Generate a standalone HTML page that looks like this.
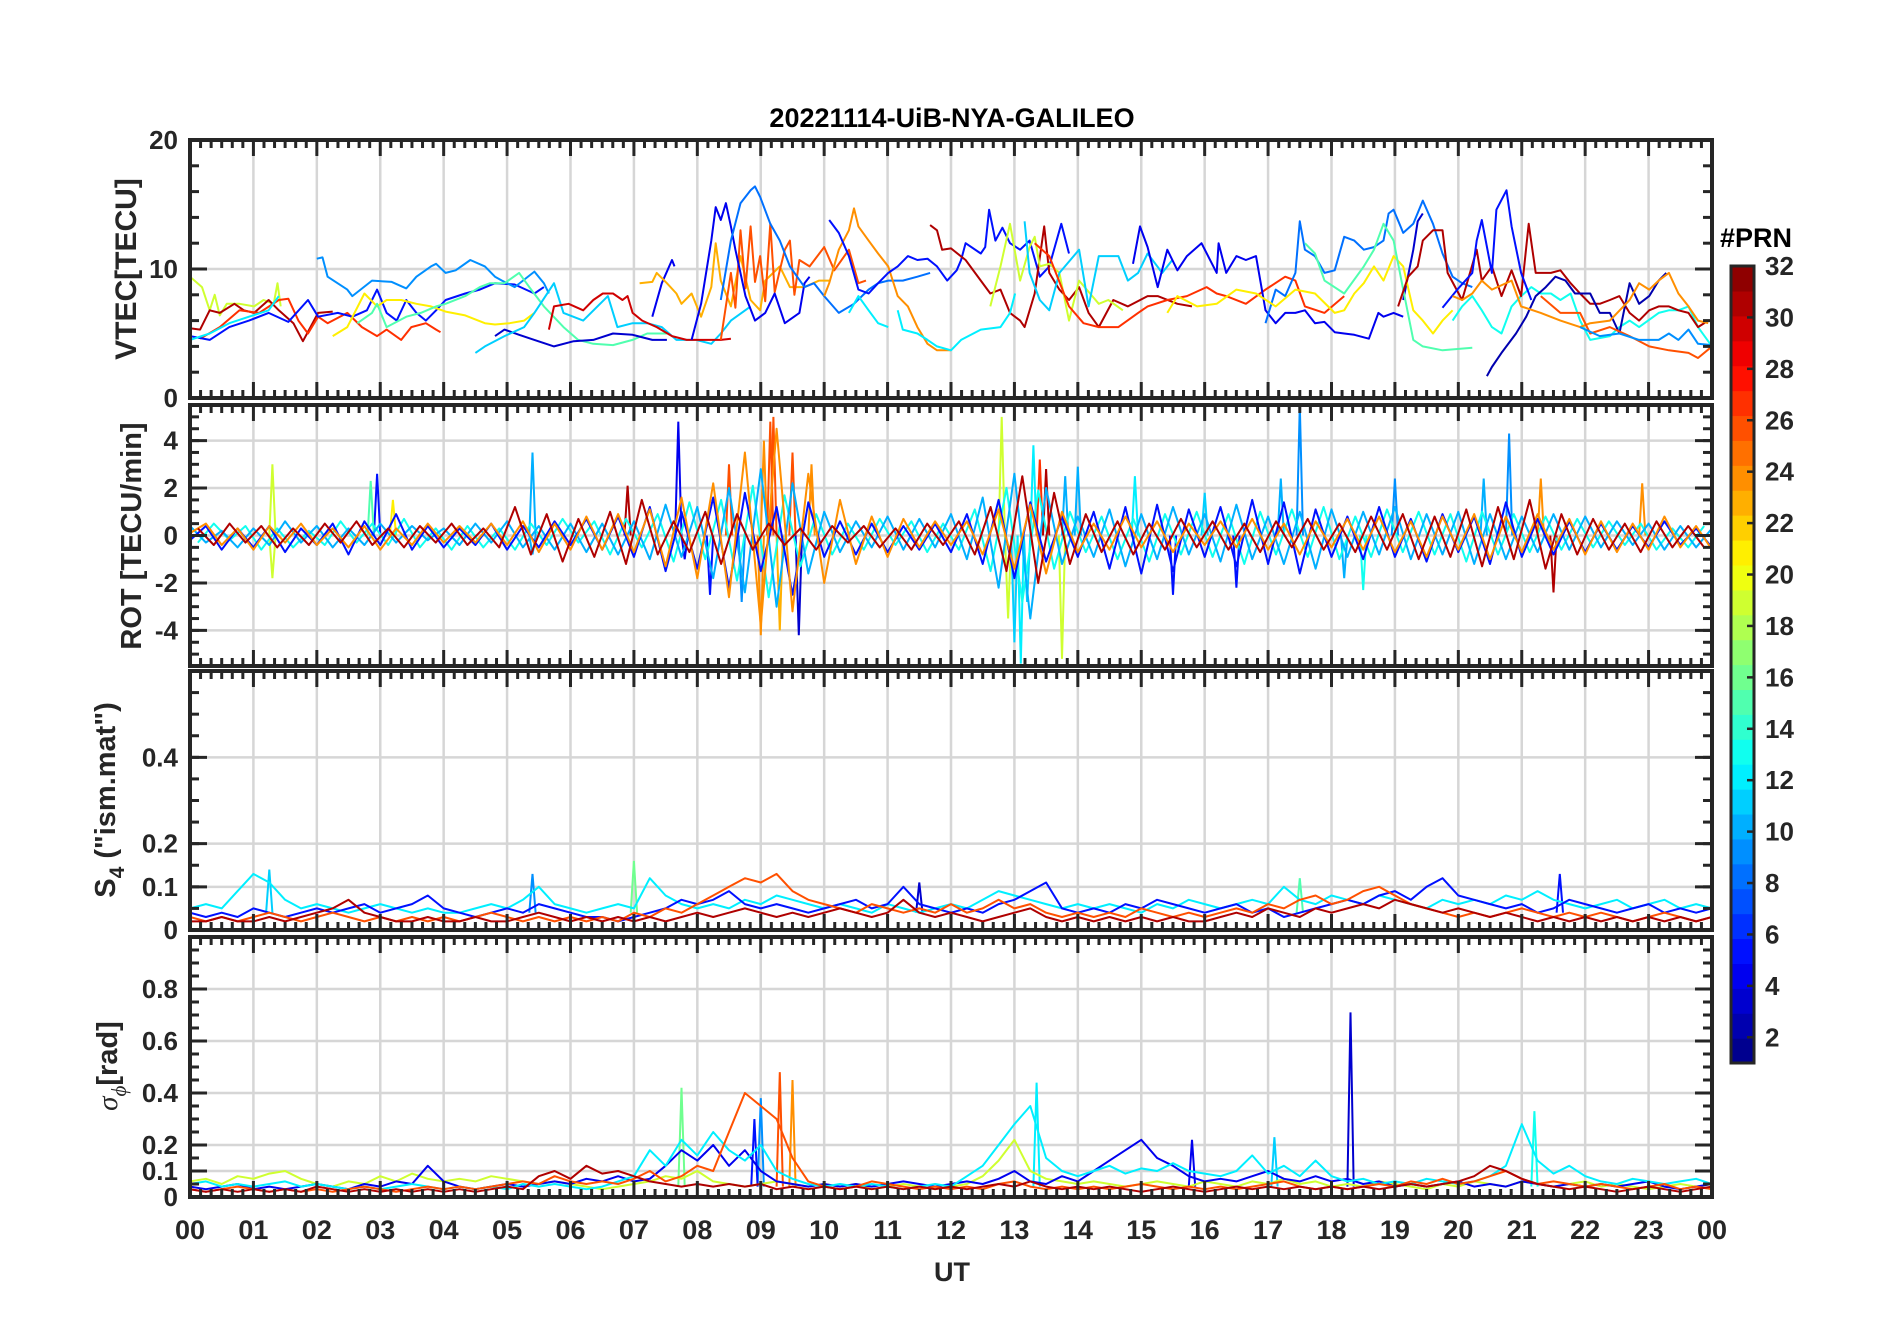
<!DOCTYPE html>
<html><head><meta charset="utf-8"><title>20221114-UiB-NYA-GALILEO</title>
<style>
html,body{margin:0;padding:0;background:#fff;}
svg{display:block;font-family:"Liberation Sans",Arial,sans-serif;}
</style></head>
<body>
<svg id="chart" width="1902" height="1330" viewBox="0 0 1902 1330" xmlns="http://www.w3.org/2000/svg">
<rect x="0" y="0" width="1902" height="1330" fill="#fff"/>
<text x="952" y="127" text-anchor="middle" font-size="27" font-weight="bold" fill="#000">20221114-UiB-NYA-GALILEO</text>
<text x="952" y="1281" text-anchor="middle" font-size="27" font-weight="bold" fill="#262626">UT</text>
<text transform="translate(136,269) rotate(-90)" text-anchor="middle" font-size="30" font-weight="bold" fill="#262626">VTEC[TECU]</text>
<text transform="translate(141,536) rotate(-90)" text-anchor="middle" font-size="29" font-weight="bold" fill="#262626">ROT [TECU/min]</text>
<text transform="translate(115,800) rotate(-90)" text-anchor="middle" font-size="29" font-weight="bold" fill="#262626">S<tspan font-size="21" dy="9">4</tspan><tspan dy="-9"> ("ism.mat")</tspan></text>
<text transform="translate(117,1066) rotate(-90)" text-anchor="middle" font-size="29" font-weight="bold" fill="#262626"><tspan font-style="italic" font-weight="normal" font-family="Liberation Serif, serif">σ</tspan><tspan font-size="21" dy="9" font-style="italic" font-weight="normal" font-family="Liberation Serif, serif">ϕ</tspan><tspan dy="-9">[rad]</tspan></text>
<text x="1720" y="247" font-size="27" font-weight="bold" fill="#000">#PRN</text>
<g id="layers"></g>
</svg>
<script>
// ===== VTEC data (hours / TECU) =====
const vtecT_A=[0,0.19,0.31,0.39,0.47,0.58,0.78,1.01,1.16,1.32,1.38,1.43];
const vtecV_A=[9.4,8.6,6.8,8.0,6.4,7.3,7.3,7.1,7.6,7.3,8.9,7.1];
const vtecT_B=[0,0.16,0.31,0.47,0.70,0.85,1.01,1.24,1.40,1.63,1.78,1.90,2.02,2.25];
const vtecV_B=[5.4,5.3,6.8,6.6,7.3,6.8,6.6,7.6,6.8,5.8,4.4,5.5,6.6,6.7];
const vtecT_C=[0.16,0.47,0.78,1.09,1.40,1.55,1.71,1.86,2.02,2.17,2.48,2.71,2.95,3.10,3.33,3.49,3.72,3.88,3.95];
const vtecV_C=[4.6,5.5,6.8,6.6,7.6,7.7,6.0,5.0,6.3,5.8,6.6,5.5,4.8,5.3,4.5,5.5,5.8,5.3,5.1];
const vtecT_D=[0,0.31,0.62,0.93,1.24,1.55,1.86,2.02,2.33,2.56,2.79,2.95,3.10,3.26,3.41,3.57,3.72,3.88,4.03,4.34,4.57,4.81,5.12,5.43,5.58];
const vtecV_D=[4.8,4.5,5.5,6.0,6.6,5.9,7.6,6.3,6.6,6.3,6.8,8.4,6.6,6.0,7.6,6.6,6.0,6.8,7.6,8.1,8.4,8.9,8.8,8.1,8.6];
const vtecT_E=[0,0.31,0.62,0.93,1.24,1.40];
const vtecV_E=[4.5,5.0,5.8,6.3,6.8,7.9];
const vtecT_F=[2.0,2.09,2.17,2.48,2.56,2.87,3.18,3.41,3.57,3.80,3.88,4.03,4.19,4.42,4.65,4.81,4.92,5.12,5.43,5.58,5.66];
const vtecV_F=[10.8,10.9,9.4,8.4,7.9,9.1,9.0,8.5,9.4,10.2,10.4,9.7,9.9,10.7,10.2,9.4,9.1,8.6,9.8,8.9,8.1];
const vtecT_G=[2.25,2.48,2.75,2.95,3.10,3.33,3.57,3.80,4.03,4.34,4.65,4.81,5.04,5.27,5.43];
const vtecV_G=[4.8,5.5,8.1,7.1,7.6,7.6,7.3,7.1,6.7,6.4,5.8,5.7,5.8,6.0,6.6];
const vtecT_H=[2.64,2.87,2.95,3.10,3.41,3.64,3.88,4.03,4.34,4.57,4.73,4.96,5.19,5.35,5.58,5.89,6.12,6.36,6.67,6.98,7.21,7.52];
const vtecV_H=[5.8,6.6,7.3,5.5,6.3,6.6,7.1,7.3,7.9,8.6,8.9,8.9,9.7,8.6,7.1,5.5,4.5,4.2,4.1,4.5,5.0,5.0];
const vtecT_I=[4.81,4.96,5.19,5.43,5.74,6.05,6.36,6.67,6.98,7.29,7.52];
const vtecV_I=[4.8,5.3,4.9,4.5,4.0,4.4,4.5,5.0,4.9,4.5,4.5];
const vtecT_I2=[7.29,7.44,7.60,7.64];
const vtecV_I2=[6.3,8.9,10.7,10.2];
const vtecT_J=[4.50,4.65,4.96,5.27,5.43,5.74,5.89,6.20,6.59,6.74,6.98,7.21,7.44,7.67,7.98,8.22,8.37,8.53,8.84];
const vtecV_J=[3.5,4.0,4.8,5.5,6.6,8.9,6.6,6.0,7.9,5.5,5.8,5.8,5.5,4.5,4.5,4.2,5.0,6.0,7.1];
const vtecT_K=[5.66,5.74,5.97,6.20,6.36,6.51,6.67,6.82,6.90,6.98,7.13,7.36,7.60,7.83,8.06,8.37,8.53];
const vtecV_K=[5.3,7.1,7.3,6.8,7.6,8.1,8.1,7.6,7.9,6.6,6.0,5.5,4.8,4.5,4.5,4.5,4.6];
const vtecT_L=[7.09,7.29,7.36,7.52,7.67,7.75,7.91,8.06,8.22,8.29,8.37,8.53,8.68,8.84,8.99,9.07,9.30,9.46,9.69,9.92,10.08];
const vtecV_L=[8.9,9.0,9.7,8.9,8.1,7.3,8.1,6.3,8.6,12.0,9.1,7.1,11.0,7.6,6.8,9.1,10.2,8.6,8.6,9.1,9.1];
const vtecT_M=[8.37,8.53,8.60,8.68,8.76,8.84,8.91,8.99,9.07,9.15,9.22,9.30,9.38,9.46,9.53,9.61,9.77,10.0,10.16,10.39,10.54,10.66];
const vtecV_M=[4.5,9.7,7.0,13.0,8.5,13.3,9.0,11.0,7.5,13.5,8.2,9.9,11.5,12.2,8.0,10.7,10.2,11.7,9.9,11.5,8.9,9.1];
const vtecT_N=[7.91,8.06,8.22,8.29,8.37,8.45,8.53,8.60,8.76,8.91,9.07,9.22,9.38,9.61,9.69,9.77];
const vtecV_N=[4.5,7.3,12.2,14.8,13.8,15.1,13.3,11.5,7.9,6.0,6.6,8.1,5.8,6.6,8.9,9.4];
const vtecT_O=[8.37,8.53,8.68,8.84,8.91,8.99,9.15,9.30,9.46,9.69,9.84,10.0,10.23,10.47,10.70,10.85,11.01,11.24,11.47,11.67];
const vtecV_O=[7.6,12.2,15.1,16.1,16.4,15.6,13.5,12.2,10.2,8.6,8.9,7.9,6.6,7.3,8.4,8.9,9.1,9.1,9.4,9.7];
const vtecT_P=[10.0,10.08,10.23,10.39,10.47,10.54,10.70,10.85,11.01,11.16,11.32,11.47,11.63,11.78,12.0];
const vtecV_P=[7.9,8.9,11.5,13.0,14.7,13.3,12.2,11.2,10.2,7.9,7.1,5.5,4.2,3.7,3.7];
const vtecT_Q=[10.08,10.23,10.39,10.54,10.70,10.85,11.01,11.16,11.32,11.47,11.63,11.78,11.94,12.09,12.16,12.23,12.47,12.54,12.60,12.70,12.81,12.93,13.09,13.24,13.40,13.55,13.74,13.86];
const vtecV_Q=[13.8,12.8,11.0,8.4,8.1,8.9,9.7,10.2,11.0,10.7,10.8,10.2,9.1,9.9,10.7,12.0,11.2,11.7,14.6,12.2,13.2,12.0,11.5,12.2,9.4,10.2,13.5,11.2];
const vtecT_R=[11.67,11.78,11.86,12.0,12.23,12.47,12.62,12.78,12.93,13.09,13.16,13.32,13.47,13.55,13.71,13.86,14.02,14.17,14.33,14.56,14.79,15.10,15.26,15.57,15.80];
const vtecV_R=[13.4,13.0,11.5,11.6,10.7,9.1,8.1,8.4,6.6,6.0,5.5,8.1,13.3,9.7,8.4,7.6,8.6,6.6,5.5,7.6,7.1,7.9,7.9,7.3,7.1];
const vtecT_S1=[10.39,10.54,10.70,10.85,11.01];
const vtecV_S1=[6.6,7.9,6.8,5.8,5.5];
const vtecT_S2=[11.16,11.24,11.47,11.63,11.78,12.0,12.16,12.47,12.78,12.93,13.01];
const vtecV_S2=[6.8,5.3,5.0,4.5,4.0,3.7,4.5,5.3,5.5,6.6,8.1];
const vtecT_T=[12.62,12.78,12.93,13.09,13.24,13.32,13.40,13.55,13.71,13.86,14.02,14.33,14.48,14.71];
const vtecV_T=[7.1,10.2,13.5,9.1,11.7,12.5,10.2,10.4,9.7,6.0,9.1,7.3,7.6,6.8];
const vtecT_U=[13.16,13.24,13.40,13.55,13.71,14.02,14.17,14.33,14.64,14.79,14.95,15.10,15.33,15.49];
const vtecV_U=[13.7,9.7,7.6,6.8,9.7,11.5,7.1,11.0,11.0,9.1,9.7,11.2,9.7,10.7];
const vtecT_V=[13.32,13.55,13.86,14.09,14.33,14.64,14.95,15.10,15.41,15.72,16.03,16.19,16.34,16.65,16.96,17.27,17.43,17.58,17.89,18.20];
const vtecV_V=[12.0,11.0,7.1,5.8,5.5,5.5,6.6,7.1,7.6,7.9,8.6,8.1,7.9,7.3,8.4,9.4,9.1,7.1,6.6,7.9];
const vtecT_W=[14.87,14.98,15.10,15.26,15.41,15.57,15.72,15.88,15.95,16.19,16.22,16.34,16.50,16.65,16.81,16.96,17.12,17.27,17.43,17.58,17.74,17.89,18.05,18.20,18.36,18.59,18.74,18.82,18.98,19.13];
const vtecV_W=[10.4,13.3,11.7,8.6,11.5,9.9,11.0,11.7,12.0,9.7,12.0,9.7,11.0,10.7,11.0,6.8,5.8,6.6,6.6,6.8,5.8,5.9,5.1,5.0,4.9,4.6,6.6,6.3,6.6,6.3];
const vtecT_X=[19.13,19.29,19.36,19.44];
const vtecV_X=[7.6,11.5,13.7,14.3];
const vtecT_Y=[16.96,17.12,17.27,17.43,17.50,17.58,17.74,17.89,18.05,18.20,18.36,18.51,18.67,18.82,18.90,18.98,19.13,19.29,19.44,19.60,19.75,19.91,20.06,20.22];
const vtecV_Y=[5.8,8.4,7.9,9.7,13.7,11.5,11.0,9.7,9.9,12.5,12.2,11.5,11.7,12.2,14.3,14.6,12.8,13.5,15.3,13.5,11.2,9.4,8.9,8.6];
const vtecT_Z=[15.41,15.57,15.88,16.19,16.50,16.81,17.12,17.43,17.74,18.05,18.20,18.36,18.51,18.67,18.82,18.98,19.13,19.29,19.44,19.60,19.75,19.91];
const vtecV_Z=[6.6,7.9,7.1,7.3,8.4,8.1,7.1,8.4,8.1,6.6,6.8,8.1,8.9,10.2,9.1,11.0,10.2,6.8,6.0,5.0,6.0,6.8];
const vtecT_AA=[17.58,17.74,17.89,18.20,18.51,18.67,18.82,18.98,19.13,19.29,19.44,19.75,20.22];
const vtecV_AA=[12.0,11.2,9.1,8.1,10.2,11.5,13.5,12.2,8.4,4.5,4.0,3.7,3.9];
const vtecT_AB=[19.91,20.06,20.22,20.37,20.53,20.68,20.84,20.99,21.15,21.30,21.46,21.61,21.77,21.92,22.08,22.39,22.54,22.70,22.85,23.16,23.32,23.47,23.63,23.78,24.0];
const vtecV_AB=[6.0,7.1,7.9,6.8,5.5,5.0,7.1,7.9,8.6,8.1,8.1,7.6,8.1,6.0,4.5,4.8,5.5,6.0,5.5,6.6,6.8,6.8,7.1,5.5,4.0];
const vtecT_AC=[19.05,19.21,19.36,19.44,19.60,19.75,19.83,20.06,20.29,20.37,20.53,20.68,20.84,20.99,21.11,21.22,21.46,21.61,21.77,21.92,22.08,22.23,22.39,22.54,22.70,22.85,23.01,23.16,23.32,23.47,23.63,23.78,23.94];
const vtecV_AC=[7.1,9.4,10.2,12.2,13.0,13.0,9.7,7.6,11.5,9.1,10.2,7.9,9.9,7.9,13.5,9.7,9.7,9.9,8.9,8.1,7.3,7.3,7.6,7.9,6.6,6.0,6.8,7.1,7.1,6.8,6.6,5.5,6.0];
const vtecT_AD=[20.45,20.53,20.68,20.91,21.07,21.22,21.38,21.53,21.69,21.84,22.08,22.23,22.39,22.54,22.70,22.85,23.01,23.16,23.28];
const vtecV_AD=[1.7,2.4,3.5,5.0,6.3,7.9,8.6,9.4,9.1,8.1,8.1,6.6,6.6,5.0,8.9,7.3,7.9,9.1,9.7];
const vtecT_AE=[19.75,20.0,20.22,20.29,20.37,20.53,20.60,20.76,20.84,20.99,21.15];
const vtecV_AE=[7.0,8.5,9.7,12.2,13.8,9.7,14.6,16.1,13.3,9.7,7.6];
const vtecT_AF=[19.91,20.06,20.22,20.37,20.53,20.84,20.99,21.30,21.61,21.92,22.08,22.39,22.70,22.85,23.01,23.16,23.32,23.47,23.63,23.78,23.94];
const vtecV_AF=[7.9,7.6,8.1,9.1,8.4,9.1,7.1,6.6,6.0,5.5,5.8,6.0,7.6,8.9,8.4,9.1,9.7,8.1,7.1,6.0,5.8];
const vtecT_AG=[21.30,21.61,21.92,22.08,22.39,22.70,23.01,23.32,23.63,23.78,24.0];
const vtecV_AG=[7.9,6.6,6.6,5.0,5.5,4.8,4.0,3.7,3.5,3.1,4.0];
const vtecT_AH=[21.92,22.23,22.54,22.85,23.16,23.32,23.47,23.63,23.78,24.0];
const vtecV_AH=[5.5,4.8,5.0,4.5,4.5,5.0,4.5,5.3,4.2,4.1];
const vtecPrn=[19,31,27,5,12,9,21,15,3,4,11,30,23,26,4,8,24,5,31,12,12,19,11,27,4,3,8,21,15,13,31,2,5,24,26,9];
const vtecTimes=[vtecT_A,vtecT_B,vtecT_C,vtecT_D,vtecT_E,vtecT_F,vtecT_G,vtecT_H,vtecT_I,vtecT_I2,vtecT_J,vtecT_K,vtecT_L,vtecT_M,vtecT_N,vtecT_O,vtecT_P,vtecT_Q,vtecT_R,vtecT_S1,vtecT_S2,vtecT_T,vtecT_U,vtecT_V,vtecT_W,vtecT_X,vtecT_Y,vtecT_Z,vtecT_AA,vtecT_AB,vtecT_AC,vtecT_AD,vtecT_AE,vtecT_AF,vtecT_AG,vtecT_AH];
const vtecVals=[vtecV_A,vtecV_B,vtecV_C,vtecV_D,vtecV_E,vtecV_F,vtecV_G,vtecV_H,vtecV_I,vtecV_I2,vtecV_J,vtecV_K,vtecV_L,vtecV_M,vtecV_N,vtecV_O,vtecV_P,vtecV_Q,vtecV_R,vtecV_S1,vtecV_S2,vtecV_T,vtecV_U,vtecV_V,vtecV_W,vtecV_X,vtecV_Y,vtecV_Z,vtecV_AA,vtecV_AB,vtecV_AC,vtecV_AD,vtecV_AE,vtecV_AF,vtecV_AG,vtecV_AH];

// ===== ROT data (TECU/min, every 0.25 h) =====
const rotP31=[0.3,-0.4,0.5,-0.3,0.4,-0.5,0.3,-0.4,0.5,-0.3,0.6,-0.4,0.3,-0.5,0.4,-0.3,0.5,-0.4,0.3,-0.5,1.2,-0.8,0.9,-1.1,0.7,-0.9,1.0,-1.2,1.5,-0.8,0.6,-0.7,1.0,-1.2,0.9,-0.6,0.5,-0.4,0.3,-0.6,0.4,-0.3,0.4,-0.5,0.3,-0.6,0.5,-0.4,0.6,-0.8,1.2,-1.5,2.5,-2.0,1.8,-1.2,0.9,-0.7,0.6,-0.8,0.5,-0.6,0.7,-0.5,0.6,-0.6,0.5,-0.7,0.6,-0.5,0.7,-0.6,0.5,-0.7,0.8,-0.6,0.9,-1.0,0.8,-0.9,1.1,-1.3,1.2,-1.0,1.5,-1.4,0.9,-0.8,0.7,-0.6,0.5,-0.7,0.6,-0.5,0.4,-0.5,0.3];
const rotP24=[0.1,0.5,-0.4,0.3,-0.6,0.4,-0.3,0.5,-0.4,0.3,-0.5,0.4,-0.6,0.3,-0.4,0.5,-0.3,0.4,-0.3,0.5,-0.4,0.6,-0.7,0.5,-0.6,0.8,-0.6,0.9,-0.7,1.1,-1.3,1.6,-1.8,2.2,-2.6,3.5,-3.8,4.5,-3.2,2.6,-2.0,1.5,-1.2,0.8,-0.9,0.7,-0.5,0.6,-0.4,0.6,-0.8,1.1,-1.4,1.3,-1.6,1.0,-0.7,0.5,-0.6,0.8,-0.5,0.6,-0.7,0.5,-0.4,0.6,-0.5,0.7,-0.6,0.5,-0.8,0.6,-0.5,0.7,-0.6,0.8,-0.7,0.6,-0.9,0.8,-0.6,0.9,-1.0,0.8,-0.7,0.9,-0.6,0.7,-0.8,0.6,-0.7,0.5,-0.6,0.8,-0.5,0.4,-0.6];
const rotP5=[-0.2,0.4,-0.6,0.3,-0.5,0.4,-0.7,0.3,-0.4,0.5,-0.8,0.6,-0.4,0.9,-0.6,0.4,-0.5,0.3,-0.4,0.5,-0.6,0.4,-0.5,0.6,-0.4,0.7,-0.6,0.8,-0.9,1.2,-1.5,1.0,-1.4,1.6,-2.2,1.8,-1.5,1.2,-2.5,1.4,-0.9,0.6,-0.8,0.5,-0.7,0.4,-0.6,0.5,-0.7,0.9,-1.2,1.5,-1.8,1.4,-1.1,0.8,-0.9,1.0,-1.4,1.2,-1.6,1.3,-1.5,1.1,-0.9,1.2,-1.3,1.5,-1.2,1.4,-1.6,1.1,-0.9,0.8,-1.0,1.2,-0.9,0.7,-1.1,0.9,-0.7,0.8,-1.2,1.4,-0.9,0.7,-0.8,0.6,-0.7,0.5,-0.6,0.4,-0.5,0.6,-0.4,0.3,-0.5];
const rotP10=[0.4,-0.3,0.2,-0.5,0.3,-0.4,0.6,-0.3,0.4,-0.5,0.3,-0.4,0.5,-0.3,0.4,-0.2,0.3,-0.4,0.5,-0.3,0.6,-0.5,0.4,-0.6,0.5,-0.7,0.5,-0.8,0.6,-1.0,1.3,-0.9,1.2,-1.8,2.0,-2.4,2.8,-3.0,2.2,-1.6,1.0,-0.7,0.6,-0.5,0.8,-0.6,0.7,-0.5,0.9,-1.0,1.6,-2.2,2.6,-3.5,2.0,-1.2,0.8,-0.9,1.1,-1.3,0.9,-1.0,1.2,-0.8,0.9,-1.1,1.3,-1.0,0.8,-1.2,1.0,-1.4,1.1,-0.9,1.0,-0.8,1.2,-1.0,0.9,-0.8,1.0,-1.2,0.9,-1.0,0.8,-0.7,0.9,-0.6,0.8,-0.5,0.6,-0.4,0.5,-0.6,0.4,-0.5,0.3];
const rotP13=[-0.3,0.5,-0.2,0.4,-0.6,0.3,-0.5,0.2,-0.4,0.6,-0.3,0.5,-0.4,0.7,-0.5,0.3,-0.6,0.4,-0.5,0.3,-0.6,0.5,-0.4,0.7,-0.3,0.6,-0.8,0.7,-0.5,0.9,-1.1,1.4,-1.0,1.5,-1.9,2.1,-2.6,1.7,-1.3,0.9,-0.8,0.5,-0.6,0.7,-0.4,0.6,-0.7,0.5,-0.6,1.1,-1.5,2.0,-2.8,1.9,-1.4,1.0,-0.7,0.8,-1.0,0.7,-1.1,0.9,-0.8,1.0,-0.9,0.9,-1.2,1.0,-0.8,1.1,-0.9,1.2,-1.0,0.8,-0.9,1.1,-0.7,1.0,-0.8,0.9,-1.1,1.0,-0.8,0.9,-0.7,0.8,-0.6,0.7,-0.5,0.6,-0.4,0.5,-0.6,0.3,-0.5,0.4,-0.3];
const rotSeriesPrn=[13,10,5,24,31];
const rotSeriesVals=[rotP13,rotP10,rotP5,rotP24,rotP31];
const rotSeriesStart=[0.125,0,0,0,0.125];
const rotSpikeHour=[1.3,1.3,2.95,2.85,3.2,5.4,5.4,6.9,7.7,7.8,8.2,8.5,8.7,9.0,9.05,9.15,9.2,9.3,9.5,9.6,9.8,12.8,12.9,13.0,13.1,13.2,13.3,13.4,13.5,13.75,13.8,14.0,14.9,15.5,16.0,16.5,17.2,17.5,18.2,18.5,19.0,20.4,20.8,21.3,21.5,22.9];
const rotSpikeVal=[3.0,-1.8,2.6,2.3,1.5,3.5,-0.8,2.1,4.8,-1.0,-2.5,3.0,-2.8,-4.2,4.0,4.8,5.0,-4.0,3.5,-4.2,3.0,5.0,-3.5,-4.5,-5.4,-2.8,3.8,3.2,2.8,-5.2,2.5,2.9,2.5,-2.5,1.8,-2.2,2.4,5.5,-1.8,-2.3,2.4,2.4,4.3,2.4,-2.4,2.2];
const rotSpikePrn=[19,19,5,15,21,10,10,31,4,4,5,26,9,24,24,26,26,23,26,3,24,19,19,11,12,11,12,27,31,19,10,10,12,5,11,5,10,9,10,13,9,10,9,24,31,24];

// ===== S4 data (every 0.25 h) =====
const s4P12=[0.05,0.06,0.05,0.09,0.13,0.11,0.07,0.05,0.06,0.05,0.04,0.05,0.06,0.05,0.04,0.05,0.04,0.04,0.05,0.06,0.05,0.07,0.10,0.06,0.05,0.04,0.05,0.06,0.05,0.12,0.08,0.06,0.05,0.06,0.05,0.07,0.06,0.08,0.07,0.06,0.05,0.06,0.05,0.04,0.06,0.05,0.04,0.05,0.06,0.05,0.07,0.09,0.08,0.07,0.06,0.05,0.06,0.05,0.06,0.05,0.04,0.06,0.05,0.07,0.06,0.05,0.06,0.07,0.06,0.10,0.07,0.06,0.08,0.07,0.06,0.08,0.07,0.06,0.05,0.07,0.06,0.07,0.06,0.08,0.07,0.09,0.07,0.06,0.05,0.06,0.07,0.05,0.06,0.07,0.05,0.06,0.05];
const s4P5=[0.04,0.03,0.04,0.03,0.05,0.04,0.03,0.04,0.05,0.04,0.05,0.06,0.04,0.05,0.06,0.08,0.05,0.04,0.03,0.04,0.05,0.04,0.06,0.05,0.04,0.03,0.03,0.02,0.03,0.04,0.05,0.07,0.06,0.07,0.09,0.06,0.05,0.06,0.05,0.04,0.05,0.06,0.07,0.05,0.06,0.10,0.06,0.05,0.04,0.05,0.04,0.06,0.07,0.09,0.11,0.05,0.04,0.05,0.04,0.06,0.05,0.07,0.06,0.05,0.04,0.05,0.06,0.04,0.05,0.03,0.04,0.05,0.06,0.07,0.06,0.08,0.09,0.07,0.10,0.12,0.08,0.07,0.06,0.05,0.06,0.04,0.05,0.07,0.06,0.05,0.04,0.05,0.06,0.04,0.05,0.04,0.05];
const s4P26=[0.03,0.02,0.03,0.02,0.03,0.04,0.03,0.02,0.03,0.04,0.03,0.02,0.03,0.02,0.03,0.02,0.03,0.02,0.03,0.04,0.03,0.02,0.03,0.02,0.03,0.02,0.03,0.02,0.04,0.03,0.05,0.04,0.06,0.08,0.10,0.12,0.11,0.13,0.09,0.07,0.06,0.05,0.04,0.06,0.05,0.04,0.05,0.04,0.06,0.04,0.05,0.07,0.05,0.06,0.04,0.03,0.04,0.03,0.04,0.03,0.05,0.04,0.03,0.04,0.03,0.04,0.05,0.04,0.06,0.05,0.07,0.08,0.06,0.07,0.09,0.10,0.08,0.06,0.05,0.04,0.03,0.04,0.03,0.04,0.05,0.04,0.03,0.04,0.03,0.04,0.03,0.02,0.03,0.04,0.03,0.02,0.03];
const s4P31=[0.02,0.02,0.03,0.02,0.02,0.03,0.02,0.03,0.04,0.05,0.07,0.04,0.03,0.02,0.02,0.03,0.02,0.02,0.03,0.02,0.02,0.03,0.04,0.03,0.02,0.03,0.02,0.03,0.02,0.03,0.02,0.03,0.04,0.03,0.04,0.05,0.04,0.03,0.04,0.03,0.04,0.05,0.04,0.03,0.04,0.07,0.04,0.03,0.04,0.03,0.02,0.03,0.04,0.05,0.03,0.02,0.03,0.02,0.03,0.02,0.03,0.02,0.03,0.02,0.02,0.03,0.04,0.03,0.05,0.04,0.03,0.05,0.04,0.05,0.06,0.05,0.07,0.06,0.05,0.04,0.05,0.04,0.03,0.04,0.03,0.02,0.03,0.02,0.03,0.02,0.03,0.02,0.03,0.02,0.03,0.02,0.03];
const s4SeriesPrn=[12,5,26,31];
const s4SeriesVals=[s4P12,s4P5,s4P26,s4P31];
const s4SpikeHour=[7.0,1.25,5.4,21.6,11.5,17.5];
const s4SpikeVal=[0.16,0.14,0.13,0.13,0.11,0.12];
const s4SpikePrn=[16,11,9,5,3,15];

// ===== sigma-phi data (every 0.25 h) =====
const sigP19=[0.06,0.07,0.05,0.08,0.07,0.09,0.10,0.07,0.05,0.04,0.06,0.05,0.08,0.06,0.09,0.07,0.06,0.07,0.06,0.08,0.07,0.06,0.05,0.06,0.05,0.04,0.03,0.04,0.05,0.06,0.08,0.07,0.10,0.06,0.05,0.04,0.05,0.06,0.05,0.04,0.05,0.04,0.05,0.03,0.04,0.05,0.04,0.03,0.04,0.05,0.08,0.14,0.22,0.10,0.07,0.06,0.05,0.06,0.05,0.04,0.05,0.06,0.05,0.04,0.06,0.05,0.04,0.06,0.05,0.07,0.05,0.06,0.04,0.05,0.04,0.06,0.05,0.04,0.03,0.05,0.04,0.06,0.05,0.04,0.06,0.05,0.04,0.05,0.06,0.04,0.05,0.04,0.03,0.04,0.05,0.04,0.03];
const sigP4=[0.04,0.03,0.04,0.05,0.03,0.04,0.03,0.04,0.05,0.04,0.03,0.05,0.04,0.06,0.05,0.12,0.06,0.04,0.03,0.04,0.05,0.04,0.05,0.06,0.05,0.07,0.06,0.08,0.06,0.07,0.12,0.18,0.14,0.20,0.12,0.18,0.10,0.06,0.05,0.04,0.05,0.04,0.05,0.04,0.05,0.06,0.05,0.04,0.05,0.06,0.05,0.07,0.10,0.06,0.05,0.08,0.06,0.10,0.14,0.18,0.22,0.15,0.12,0.08,0.06,0.07,0.06,0.08,0.10,0.07,0.06,0.08,0.06,0.07,0.05,0.06,0.04,0.05,0.04,0.05,0.06,0.04,0.05,0.04,0.06,0.05,0.04,0.05,0.04,0.05,0.04,0.05,0.06,0.04,0.03,0.04,0.05];
const sigP12=[0.05,0.06,0.04,0.05,0.04,0.05,0.06,0.04,0.05,0.04,0.03,0.04,0.03,0.04,0.05,0.04,0.03,0.04,0.03,0.04,0.03,0.05,0.04,0.05,0.04,0.03,0.04,0.06,0.08,0.18,0.12,0.22,0.16,0.25,0.18,0.14,0.20,0.10,0.07,0.05,0.04,0.05,0.04,0.05,0.04,0.03,0.04,0.05,0.04,0.08,0.12,0.20,0.28,0.35,0.15,0.10,0.08,0.10,0.12,0.09,0.11,0.10,0.13,0.10,0.09,0.08,0.10,0.16,0.09,0.12,0.08,0.14,0.08,0.06,0.07,0.05,0.06,0.05,0.07,0.06,0.05,0.06,0.08,0.12,0.28,0.14,0.09,0.12,0.08,0.06,0.05,0.07,0.06,0.05,0.06,0.07,0.05];
const sigP26=[0.03,0.02,0.03,0.04,0.03,0.02,0.03,0.02,0.03,0.02,0.03,0.04,0.03,0.02,0.03,0.04,0.03,0.04,0.03,0.04,0.05,0.06,0.05,0.08,0.06,0.05,0.06,0.05,0.07,0.10,0.06,0.08,0.12,0.10,0.25,0.40,0.35,0.30,0.15,0.06,0.04,0.03,0.04,0.06,0.05,0.04,0.03,0.04,0.03,0.04,0.03,0.05,0.06,0.04,0.03,0.04,0.03,0.04,0.03,0.04,0.05,0.04,0.03,0.04,0.03,0.04,0.03,0.04,0.05,0.06,0.04,0.03,0.04,0.03,0.04,0.05,0.04,0.06,0.05,0.07,0.05,0.06,0.08,0.10,0.07,0.05,0.06,0.05,0.04,0.05,0.04,0.03,0.04,0.05,0.03,0.04,0.03];
const sigP31=[0.03,0.02,0.03,0.02,0.03,0.02,0.03,0.02,0.04,0.03,0.02,0.03,0.02,0.03,0.02,0.03,0.02,0.03,0.02,0.03,0.04,0.03,0.08,0.10,0.07,0.12,0.09,0.10,0.08,0.06,0.05,0.04,0.05,0.04,0.05,0.04,0.05,0.03,0.04,0.03,0.04,0.03,0.04,0.03,0.04,0.03,0.04,0.03,0.04,0.03,0.04,0.05,0.04,0.06,0.04,0.03,0.04,0.03,0.04,0.03,0.02,0.03,0.04,0.03,0.02,0.03,0.04,0.03,0.04,0.03,0.04,0.03,0.04,0.03,0.04,0.03,0.04,0.05,0.04,0.05,0.06,0.08,0.12,0.10,0.07,0.05,0.04,0.03,0.04,0.03,0.02,0.03,0.04,0.03,0.02,0.03,0.04];
const sigSeriesPrn=[19,4,12,26,31];
const sigSeriesVals=[sigP19,sigP4,sigP12,sigP26,sigP31];
const sigSpikeHour=[18.3,9.3,9.5,13.35,7.75,9.0,8.9,17.1,21.2,15.8];
const sigSpikeVal=[0.71,0.48,0.45,0.44,0.42,0.38,0.30,0.23,0.33,0.22];
const sigSpikePrn=[3,26,24,12,16,9,5,11,13,4];

// ===== axis tick specs =====
const xTickLabels=["00","01","02","03","04","05","06","07","08","09","10","11","12","13","14","15","16","17","18","19","20","21","22","23","00"];
const vtecTicks=[0,10,20];
const rotTicks=[-4,-2,0,2,4];
const s4Ticks=[0,0.1,0.2,0.4];
const sigTicks=[0,0.1,0.2,0.4,0.6,0.8];
const cbTicks=[2,4,6,8,10,12,14,16,18,20,22,24,26,28,30,32];

const NS="http://www.w3.org/2000/svg";
const X0=190,X1=1712;
const INK="#262626";
function xs(h){return X0+(X1-X0)*h/24;}
function jet(p){
  const n=32, t=(p-0.5)/n;
  const c=v=>Math.max(0,Math.min(1,v));
  const r=c(1.5-Math.abs(4*t-3)), g=c(1.5-Math.abs(4*t-2)), b=c(1.5-Math.abs(4*t-1));
  return "rgb("+Math.round(r*255)+","+Math.round(g*255)+","+Math.round(b*255)+")";
}
function el(tag,attrs,parent){const e=document.createElementNS(NS,tag);for(const k in attrs)e.setAttribute(k,attrs[k]);parent.appendChild(e);return e;}
const layers=document.getElementById('layers');
const defs=el('defs',{},layers);

const panels=[
 {key:'vtec',top:140,bot:398,min:0,max:20,ticks:vtecTicks,minor:2,grid:[10]},
 {key:'rot',top:405,bot:666,min:-5.5,max:5.5,ticks:rotTicks,minor:0.5,grid:rotTicks},
 {key:'s4',top:671,bot:930,min:0,max:0.6,ticks:s4Ticks,minor:0.05,grid:[0.1,0.2,0.4]},
 {key:'sigma',top:937,bot:1197,min:0,max:1,ticks:sigTicks,minor:0.05,grid:[0.1,0.2,0.4,0.6,0.8]}
];
panels.forEach(p=>{p.ys=v=>p.bot-(v-p.min)/(p.max-p.min)*(p.bot-p.top);});

function polyline(g,times,vals,prn,p){
  let d="";
  for(let i=0;i<times.length;i++){d+=(i?"L":"M")+xs(times[i]).toFixed(1)+","+p.ys(vals[i]).toFixed(1);}
  const path=el('path',{d:d,fill:'none',stroke:jet(prn),'stroke-width':2,'stroke-linejoin':'round'},g);
  
  
}
function regular(g,vals,prn,p,start){
  polyline(g,vals.map((v,i)=>(start||0)+i*0.25).filter(t=>t<=24),vals.filter((v,i)=>(start||0)+i*0.25<=24),prn,p);
}
function spikes(g,hours,vals,prns,p,base){
  for(let i=0;i<hours.length;i++){
    const h=hours[i];
    const d="M"+xs(h-0.05).toFixed(1)+","+p.ys(base).toFixed(1)+"L"+xs(h).toFixed(1)+","+p.ys(vals[i]).toFixed(1)+"L"+xs(h+0.05).toFixed(1)+","+p.ys(base).toFixed(1);
    const s=el('path',{d:d,fill:'none',stroke:jet(prns[i]),'stroke-width':2},g);
    
    
  }
}

panels.forEach((p,pi)=>{
  const g=el('g',{},layers);
  
  
  const grid=el('g',{stroke:'#d6d6d6','stroke-width':2.5},g);
  
  
  for(let h=1;h<24;h++) el('line',{x1:xs(h),x2:xs(h),y1:p.top,y2:p.bot},grid);
  p.grid.forEach(v=>el('line',{x1:X0,x2:X1,y1:p.ys(v),y2:p.ys(v)},grid));
  const cp=el('clipPath',{id:'clip'+pi},defs);
  el('rect',{x:X0,y:p.top,width:X1-X0,height:p.bot-p.top},cp);
  const data=el('g',{'clip-path':'url(#clip'+pi+')'},g);
  
  
  if(p.key==='vtec'){
    for(let i=0;i<vtecTimes.length;i++) polyline(data,vtecTimes[i],vtecVals[i],vtecPrn[i],p);
  } else if(p.key==='rot'){
    spikes(data,rotSpikeHour,rotSpikeVal,rotSpikePrn,p,0);
    for(let i=0;i<rotSeriesVals.length;i++) regular(data,rotSeriesVals[i],rotSeriesPrn[i],p,rotSeriesStart[i]);
  } else if(p.key==='s4'){
    spikes(data,s4SpikeHour,s4SpikeVal,s4SpikePrn,p,0.04);
    for(let i=0;i<s4SeriesVals.length;i++) regular(data,s4SeriesVals[i],s4SeriesPrn[i],p,0);
  } else {
    spikes(data,sigSpikeHour,sigSpikeVal,sigSpikePrn,p,0.04);
    for(let i=0;i<sigSeriesVals.length;i++) regular(data,sigSeriesVals[i],sigSeriesPrn[i],p,0);
  }
  const tk=el('g',{stroke:INK,'stroke-width':3},g);
  
  
  for(let m=0;m<=144;m++){
    const x=xs(m/6), len=(m%6===0)?16:8;
    el('line',{x1:x,x2:x,y1:p.top,y2:p.top+len},tk);
    el('line',{x1:x,x2:x,y1:p.bot,y2:p.bot-len},tk);
  }
  const start=Math.ceil(p.min/p.minor-1e-9);
  for(let k=start;k*p.minor<=p.max+1e-9;k++){
    const y=p.ys(k*p.minor);
    el('line',{x1:X0,x2:X0+9,y1:y,y2:y},tk);
    el('line',{x1:X1,x2:X1-9,y1:y,y2:y},tk);
  }
  p.ticks.forEach(v=>{
    const y=p.ys(v);
    el('line',{x1:X0,x2:X0+17,y1:y,y2:y},tk);
    el('line',{x1:X1,x2:X1-17,y1:y,y2:y},tk);
    const t=el('text',{x:178,y:y+9,'text-anchor':'end','font-size':26,'font-weight':'bold',fill:INK,stroke:'none'},g);
    t.textContent=String(v);
    
    
  });
  const fr=el('rect',{x:X0,y:p.top,width:X1-X0,height:p.bot-p.top,fill:'none',stroke:INK,'stroke-width':4},g);
  
  
});

const xl=el('g',{},layers);


xTickLabels.forEach((s,i)=>{
  const t=el('text',{x:xs(i),y:1239,'text-anchor':'middle','font-size':27,'font-weight':'bold',fill:INK},xl);
  t.textContent=s;
  
  
});

const CB={x:1731,w:23,top:266,bot:1063,min:1,max:32};
const cb=el('g',{},layers);


const cellH=(CB.bot-CB.top)/32;
for(let p=1;p<=32;p++){
  const r=el('rect',{x:CB.x,y:(CB.bot-p*cellH).toFixed(2),width:CB.w,height:(cellH+0.6).toFixed(2),fill:jet(p)},cb);
  
  
}
el('rect',{x:CB.x,y:CB.top,width:CB.w,height:CB.bot-CB.top,fill:'none',stroke:INK,'stroke-width':3},cb);
cbTicks.forEach(v=>{
  const y=CB.bot-(v-CB.min)/(CB.max-CB.min)*(CB.bot-CB.top);
  el('line',{x1:CB.x+CB.w,x2:CB.x+CB.w-7,y1:y,y2:y,stroke:INK,'stroke-width':2.5},cb);
  const t=el('text',{x:1765,y:y+9,'font-size':26,'font-weight':'bold',fill:INK},cb);
  t.textContent=String(v);
  
  
});
</script>
</body></html>
